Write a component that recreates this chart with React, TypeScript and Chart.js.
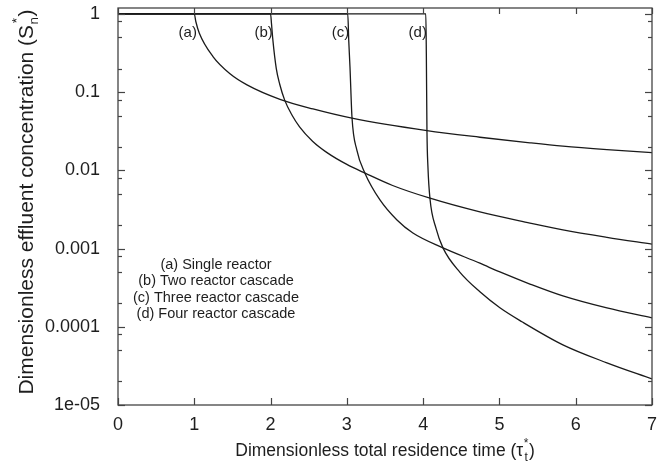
import React, { useEffect, useRef } from 'react';
import { Chart, registerables } from 'chart.js';

Chart.register(...registerables);

// ---- Data ----
const tauA = [0, 1.0, 1.02, 1.065, 1.245, 1.468, 1.691, 2.123, 2.556, 3.067, 4.05, 4.744, 5.4, 5.832, 6.409, 7];
const sA = [1, 1, 0.8, 0.571, 0.285, 0.172, 0.124, 0.081, 0.061, 0.0465, 0.0322, 0.0265, 0.0225, 0.0204, 0.0184, 0.0168];

const tauB = [0, 2.0, 2.012, 2.03, 2.075, 2.12, 2.185, 2.28, 2.38, 2.55, 2.75, 3.0, 3.24, 3.6, 4.09, 4.744, 5.4, 5.832, 6.409, 7];
const sB = [1, 1, 0.75, 0.465, 0.2, 0.126, 0.079, 0.051, 0.036, 0.0236, 0.0166, 0.0119, 0.0092, 0.0064, 0.0044, 0.00294, 0.00212, 0.00173, 0.00139, 0.00114];

const tauC = [0, 3.012, 3.025, 3.041, 3.067, 3.132, 3.237, 3.434, 3.657, 3.866, 4.26, 4.744, 5.006, 5.4, 5.832, 6.409, 7];
const sC = [1, 1, 0.45, 0.21, 0.048, 0.018, 0.0092, 0.00419, 0.00232, 0.00158, 0.00102, 0.00065, 0.000502, 0.000352, 0.000248, 0.000174, 0.00013];

const tauD = [0, 4.035, 4.042, 4.05, 4.063, 4.089, 4.17, 4.26, 4.48, 4.744, 5.006, 5.295, 5.832, 6.409, 7];
const sD = [1, 1, 0.3, 0.0322, 0.011, 0.0044, 0.0018, 0.00102, 0.0005, 0.00028, 0.000175, 0.000116, 0.0000588, 0.0000346, 0.0000215];

const curveTags = ['(a)', '(b)', '(c)', '(d)'];
const tagTau = [1.035, 2.03, 3.03, 4.05];
const tagS = 0.57;

const legendLines = [
  '(a) Single reactor',
  '(b) Two reactor cascade',
  '(c) Three reactor cascade',
  '(d) Four reactor cascade',
];

const xTickVals = [0, 1, 2, 3, 4, 5, 6, 7];
const yTickVals = [1, 0.1, 0.01, 0.001, 0.0001, 0.00001];
const yTickLabels = ['1', '0.1', '0.01', '0.001', '0.0001', '1e-05'];
const yMinorFactors = [0.8, 0.5, 0.2];

const FONT = '"Liberation Sans", Arial, Helvetica, sans-serif';
const TEXT = '#1e1e1e';
const LINE = '#1a1a1a';
const FRAME = '#444444';

function pts(xs: number[], ys: number[]) {
  return xs.map((x, i) => ({ x, y: ys[i] }));
}

function drawRich(ctx: CanvasRenderingContext2D, main: string, sup: string, sub: string, tail: string, size: number, smallSize: number) {
  ctx.font = `${size}px ${FONT}`;
  const wMain = ctx.measureText(main).width;
  const wTail = ctx.measureText(tail).width;
  ctx.font = `${smallSize}px ${FONT}`;
  const wSup = ctx.measureText(sup).width;
  const wSub = ctx.measureText(sub).width;
  const wStack = Math.max(wSup, wSub) + 1;
  const total = wMain + wStack + wTail;
  let x = -total / 2;
  ctx.textBaseline = 'alphabetic';
  ctx.textAlign = 'left';
  const base = size * 0.36;
  ctx.font = `${size}px ${FONT}`;
  ctx.fillText(main, x, base);
  x += wMain;
  ctx.font = `${smallSize}px ${FONT}`;
  ctx.fillText(sup, x + (wStack - wSup) / 2, base - size * 0.55);
  ctx.fillText(sub, x + (wStack - wSub) / 2, base + size * 0.28);
  x += wStack;
  ctx.font = `${size}px ${FONT}`;
  ctx.fillText(tail, x, base);
}

const decorPlugin = {
  id: 'decor',
  afterDatasetsDraw(chart: any) {
    const { ctx, chartArea: a, scales } = chart;
    const xs = scales.x;
    const ys = scales.y;
    ctx.save();
    ctx.strokeStyle = FRAME;
    ctx.lineWidth = 1.3;
    ctx.strokeRect(a.left, a.top, a.right - a.left, a.bottom - a.top);
    const seg = (x1: number, y1: number, x2: number, y2: number) => {
      ctx.beginPath();
      ctx.moveTo(x1, y1);
      ctx.lineTo(x2, y2);
      ctx.stroke();
    };
    ctx.lineWidth = 1.2;
    xTickVals.forEach((v) => {
      const px = Math.round(xs.getPixelForValue(v)) + 0.5;
      seg(px, a.bottom, px, a.bottom - 7);
      seg(px, a.top, px, a.top + 6);
    });
    yTickVals.forEach((v) => {
      const py = Math.round(ys.getPixelForValue(v)) + 0.5;
      seg(a.left, py, a.left + 7, py);
      seg(a.right, py, a.right - 7, py);
    });
    yTickVals.slice(0, -1).forEach((d) => {
      yMinorFactors.forEach((m) => {
        const py = Math.round(ys.getPixelForValue(d * m)) + 0.5;
        seg(a.left, py, a.left + 4, py);
        seg(a.right, py, a.right - 4, py);
      });
    });

    // curve tags
    ctx.fillStyle = TEXT;
    ctx.font = `15px ${FONT}`;
    ctx.textAlign = 'right';
    ctx.textBaseline = 'middle';
    curveTags.forEach((t, i) => {
      ctx.fillText(t, xs.getPixelForValue(tagTau[i]), ys.getPixelForValue(tagS));
    });

    // legend text
    ctx.textAlign = 'center';
    ctx.font = `14.5px ${FONT}`;
    legendLines.forEach((t, i) => {
      ctx.fillText(t, a.left + 98, a.top + 257 + i * 16.3);
    });

    // x axis title
    ctx.save();
    ctx.translate((a.left + a.right) / 2, 450);
    drawRich(ctx, 'Dimensionless total residence time (\u03C4', '*', 't', ')', 17.5, 12);
    ctx.restore();

    // y axis title
    ctx.save();
    ctx.translate(25, 202);
    ctx.rotate(-Math.PI / 2);
    drawRich(ctx, 'Dimensionless effluent concentration (S', '*', 'n', ')', 21, 13.5);
    ctx.restore();

    ctx.restore();
  },
};

export default function App() {
  const ref = useRef<HTMLCanvasElement | null>(null);
  useEffect(() => {
    if (!ref.current) return;
    const mk = (xs: number[], ys: number[]) => ({
      data: pts(xs, ys),
      borderColor: LINE,
      borderWidth: 1.3,
      pointRadius: 0,
      fill: false,
      cubicInterpolationMode: 'monotone' as const,
    });
    const chart = new Chart(ref.current, {
      type: 'line',
      data: {
        datasets: [mk(tauA, sA), mk(tauB, sB), mk(tauC, sC), mk(tauD, sD)],
      },
      options: {
        responsive: false,
        animation: false,
        events: [],
        layout: { padding: { top: 8, right: 18, left: 0, bottom: 0 } },
        plugins: { legend: { display: false }, tooltip: { enabled: false } },
        scales: {
          x: {
            type: 'linear',
            min: 0,
            max: 7,
            grid: { display: false },
            border: { display: false },
            afterBuildTicks: (s: any) => {
              s.ticks = xTickVals.map((v) => ({ value: v }));
            },
            afterFit: (s: any) => {
              s.height = 66;
              s.paddingLeft = 0;
              s.paddingRight = 0;
            },
            ticks: {
              padding: 1,
              color: TEXT,
              font: { family: FONT, size: 18 },
              callback: (v: any) => String(v),
              maxRotation: 0,
            },
          },
          y: {
            type: 'logarithmic',
            min: 0.00001,
            max: 1.19,
            grid: { display: false },
            border: { display: false },
            afterBuildTicks: (s: any) => {
              s.ticks = yTickVals.map((v) => ({ value: v }));
            },
            afterFit: (s: any) => {
              s.width = 118;
              s.paddingTop = 0;
              s.paddingBottom = 0;
            },
            ticks: {
              padding: 10,
              color: TEXT,
              font: { family: FONT, size: 18 },
              callback: (_v: any, i: number) => yTickLabels[i],
            },
          },
        },
      },
      plugins: [decorPlugin],
    });
    return () => chart.destroy();
  }, []);
  return (
    <div style={{ position: 'absolute', left: 0, top: 0, width: 670, height: 471, background: '#fff' }}>
      <canvas ref={ref} width={670} height={471} style={{ display: 'block' }} />
    </div>
  );
}
